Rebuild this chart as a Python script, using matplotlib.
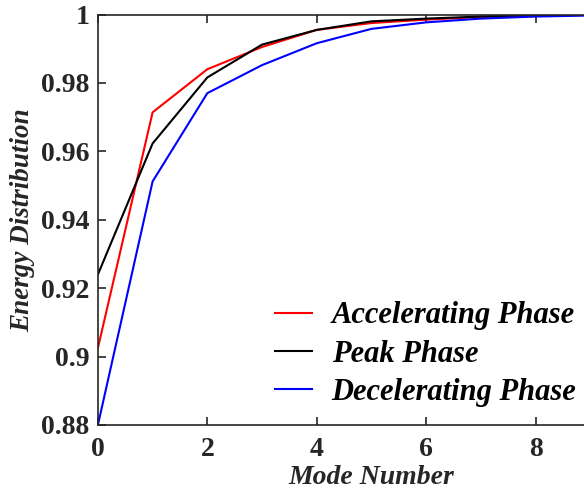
import matplotlib
matplotlib.use("Agg")
import matplotlib.pyplot as plt

modes = [0, 1, 2, 3, 4, 5, 6, 7, 8, 9]
accelerating = [0.9025, 0.9714, 0.9840, 0.9905, 0.9955, 0.9975, 0.9985, 0.9993, 0.9997, 0.9999]
peak = [0.9240, 0.9623, 0.9816, 0.9912, 0.9955, 0.9980, 0.9988, 0.9994, 0.9998, 1.0000]
decelerating = [0.8800, 0.9512, 0.9770, 0.9852, 0.9916, 0.9958, 0.9977, 0.9988, 0.9994, 0.9997]
xticks = [0, 2, 4, 6, 8]
yticks = [0.88, 0.90, 0.92, 0.94, 0.96, 0.98, 1.00]
yticklabels = ["0.88", "0.9", "0.92", "0.94", "0.96", "0.98", "1"]

plt.rcParams['font.family'] = ['Liberation Serif', 'DejaVu Serif']
plt.rcParams['font.weight'] = 'bold'

W, H = 584, 491
fig = plt.figure(figsize=(W/100, H/100), dpi=100)
x0, x1, ytop, ybot = 97.9, 645.0, 14.5, 425.0
ax = fig.add_axes([x0/W, (H-ybot)/H, (x1-x0)/W, (ybot-ytop)/H])

ax.plot(modes, accelerating, color='#ff0000', lw=1.5, label='Accelerating Phase')
ax.plot(modes, peak, color='#000000', lw=1.5, label='Peak Phase')
ax.plot(modes, decelerating, color='#0000ff', lw=1.5, label='Decelerating Phase')

ax.set_xlim(0, 10)
ax.set_ylim(0.88, 1.0)
ax.set_xticks(xticks)
ax.set_xticklabels([str(v) for v in xticks])
ax.set_yticks(yticks)
ax.set_yticklabels(yticklabels)

gray = '#262626'
for s in ax.spines.values():
    s.set_color(gray)
    s.set_linewidth(1.2)
ax.tick_params(direction='in', length=6, width=1.2, color=gray, labelcolor=gray,
               labelsize=20, top=True, right=True)
ax.tick_params(axis='y', pad=6)
ax.tick_params(axis='x', pad=9)
for lab in ax.get_xticklabels() + ax.get_yticklabels():
    lab.set_fontweight('bold')

ax.set_xlabel('Mode Number', fontsize=20, fontweight='bold', fontstyle='italic', color=gray, labelpad=2)
ax.set_ylabel('Energy Distribution', fontsize=19.5, fontweight='bold', fontstyle='italic', color=gray, labelpad=4)

leg = fig.legend(loc='center left', bbox_to_anchor=(275/W, (H-354)/H), frameon=False,
                 prop={'family': 'Liberation Serif', 'weight': 'bold', 'style': 'italic', 'size': 22},
                 handlelength=1.22, handletextpad=0.63, labelspacing=0.3,
                 borderpad=0, borderaxespad=0)

fig.savefig('out.png', dpi=100)
